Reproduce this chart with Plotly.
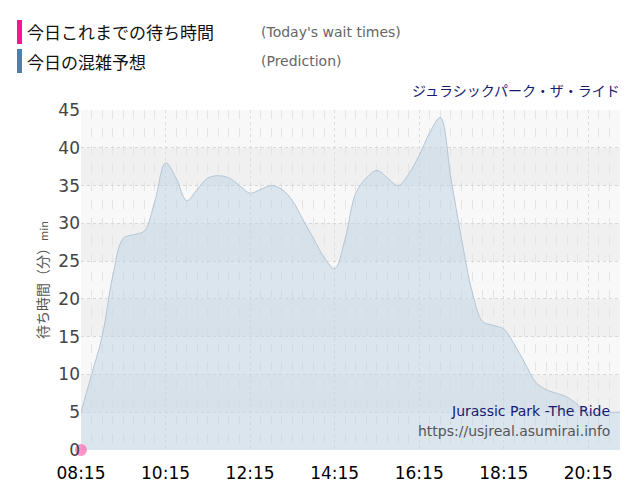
import plotly.graph_objects as go
import pandas as pd

times = pd.date_range("2024-01-01 08:15", "2024-01-01 21:00", freq="15min")
pred = [5,10,15,23,28,28.5,29,33,38,36,33,34.5,36,36.3,36,35,34,34.5,35,34.5,33,30.5,28,25.5,24,28,34,36,37,36,35,36.5,39,42,44,36,28,21,17,16.5,16,14,11.5,9,8,7.5,7,6,5,5,5,5]
actual_t = [times[0]]
actual_v = [0]

OFF = 8  # page body offset
L, R, T, B = 81, 620, 110, 450
def px(x): return (x - L) / (R - L)
def py(y): return (B - y) / (B - T)

fig = go.Figure()
for lo in range(0, 45, 10):
    fig.add_shape(type="rect", xref="paper", yref="y", x0=0, x1=1, y0=lo+5, y1=lo+10,
                  fillcolor="#f0f0f0", line_width=0, layer="below")
fig.add_trace(go.Scatter(x=times, y=pred, mode="lines", line=dict(color="#b4c6d6", width=1, shape="spline"),
                         fill="tozeroy", fillcolor="rgba(190,210,228,0.5)", hoverinfo="skip"))
fig.add_trace(go.Scatter(x=actual_t, y=actual_v, mode="markers",
                         marker=dict(color="rgba(255,105,180,0.7)", size=12), cliponaxis=False))

fig.update_layout(
    width=640, height=500, margin=dict(l=L-OFF, r=640-R+OFF, t=T-OFF, b=500-B+OFF, autoexpand=False),
    plot_bgcolor="#f8f8f8", paper_bgcolor="white", showlegend=False,
    font=dict(family="Noto Sans CJK JP"),
    xaxis=dict(range=[times[0], times[-1]], tickformat="%H:%M", dtick=2*3600*1000,
               tick0=times[0], showgrid=True, gridcolor="#dddddd", griddash="dot", automargin=False,
               minor=dict(dtick=15*60*1000, showgrid=True, gridcolor="#e4e4e4", griddash="dash"),
               tickfont=dict(size=17, color="black", family="DejaVu Sans"), ticks="outside",
               ticklen=8, tickcolor="rgba(0,0,0,0)", zeroline=False),
    yaxis=dict(range=[0, 45], dtick=5, gridcolor="#d8d8d8", griddash="dot", automargin=False,
               tickfont=dict(size=17, color="#444", family="DejaVu Sans"), zeroline=False,
               title=dict(text="待ち時間（分）<span style='font-size:11px'>min</span>", font=dict(size=14, color="#555"), standoff=6)),
)
fig.add_shape(type="rect", xref="paper", yref="paper", x0=px(17), x1=px(22), y0=py(20), y1=py(44),
              fillcolor="#ff1493", line_width=0)
fig.add_shape(type="rect", xref="paper", yref="paper", x0=px(17), x1=px(22), y0=py(49), y1=py(73),
              fillcolor="#4682b4", line_width=0)
ann = [
    (25, 32, "今日これまでの待ち時間", 17, "#111", "Noto Sans CJK JP"),
    (259, 32, "(Today's wait times)", 14, "#666", "DejaVu Sans"),
    (25, 61, "今日の混雑予想", 17, "#111", "Noto Sans CJK JP"),
    (259, 61, "(Prediction)", 14, "#666", "DejaVu Sans"),
]
for x, y, t, s, c, f in ann:
    fig.add_annotation(x=px(x), y=py(y), xref="paper", yref="paper", xanchor="left", yanchor="middle",
                       text=t, showarrow=False, font=dict(size=s, color=c, family=f))
fig.add_annotation(x=px(622), y=py(90), xref="paper", yref="paper", xanchor="right", yanchor="middle",
                   text="ジュラシックパーク・ザ・ライド", showarrow=False, font=dict(size=14, color="#191970"))
fig.add_annotation(x=px(612), y=py(411), xref="paper", yref="paper", xanchor="right", yanchor="middle",
                   text="Jurassic Park -The Ride", showarrow=False, font=dict(size=14, color="#191970", family="DejaVu Sans"))
fig.add_annotation(x=px(612), y=py(431), xref="paper", yref="paper", xanchor="right", yanchor="middle",
                   text="https://usjreal.asumirai.info", showarrow=False, font=dict(size=14, color="#555", family="DejaVu Sans"))
fig.write_html("out.html")
